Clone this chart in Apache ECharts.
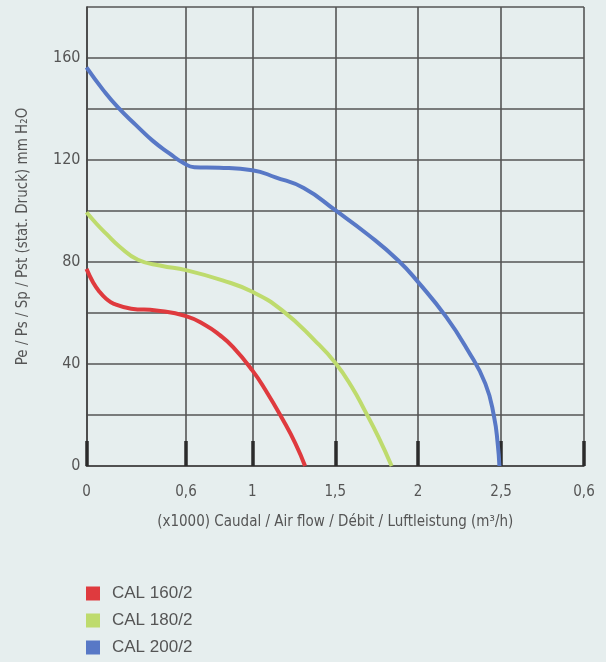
<!DOCTYPE html>
<html>
<head>
<meta charset="utf-8">
<script src="https://cdn.jsdelivr.net/npm/echarts@6/dist/echarts.min.js"></script>
<style>
html,body{margin:0;padding:0;background:#e6eeee;}
#chart{width:606px;height:662px;}
</style>
</head>
<body>
<div id="chart"></div>
<script>
const seriesNames = ['CAL 160/2', 'CAL 180/2', 'CAL 200/2'];
const seriesColors = ['#df3a3e', '#bedb6d', '#5878c6'];

// [airflow (x1000 m3/h), pressure mm H2O]
const cal160 = [[0,77.3],[0.04,72],[0.08,68.2],[0.12,65.5],[0.165,63.6],[0.27,61.7],[0.42,61],[0.6,58.8],[0.72,55.1],[0.8,51.5],[0.884,46.6],[1.0,37.5],[1.08,29.7],[1.18,18.6],[1.26,8.8],[1.318,0]];
const cal180 = [[0,99.5],[0.06,95],[0.12,91],[0.2,86],[0.31,80.9],[0.45,78.5],[0.6,76.8],[0.82,72.8],[1.0,68.3],[1.18,61],[1.38,49],[1.5,40.5],[1.6,31],[1.68,21.5],[1.76,11.4],[1.84,0]];
const cal200 = [[0,156.3],[0.1,147.5],[0.19,140.6],[0.3,133.6],[0.4,127.5],[0.5,122.6],[0.59,118.6],[0.65,117.2],[0.8,117],[1.0,116],[1.14,113.2],[1.31,109],[1.5,100.3],[1.7,90.6],[1.88,80.6],[2.0,72.1],[2.17,58.4],[2.3,45.3],[2.405,32.3],[2.458,19.2],[2.48,8.5],[2.49,0]];

const xTickValues = [0, 0.6, 1, 1.5, 2, 2.5, 3];
const xTickLabels = ['0', '0,6', '1', '1,5', '2', '2,5', '0,6'];
const yLabelValues = [0, 40, 80, 120, 160];

const textFont = "'Liberation Sans Narrow', 'DejaVu Sans Condensed', sans-serif";
const chart = echarts.init(document.getElementById('chart'), null, {renderer: 'canvas'});
const datasets = [cal160, cal180, cal200];

chart.setOption({
  backgroundColor: '#e6eeee',
  animation: false,
  grid: {left: 86.5, right: 22, top: 7, bottom: 196, containLabel: false},
  legend: {
    orient: 'vertical', left: 86, top: 585, height: 77, padding: 0,
    icon: 'rect', itemWidth: 14, itemHeight: 14, itemGap: 10,
    textStyle: {fontFamily: "'Liberation Sans', Arial, sans-serif", fontSize: 17, color: '#555', padding: [0,0,0,7]},
    data: seriesNames
  },
  xAxis: {
    type: 'value', min: 0, max: 3,
    name: '(x1000) Caudal / Air flow / Débit / Luftleistung (m³/h)',
    nameLocation: 'middle', nameGap: 49,
    nameTextStyle: {fontFamily: textFont, fontSize: 15, color: '#555'},
    axisLine: {show: true, lineStyle: {color: '#444', width: 1.6}},
    axisTick: {show: true, inside: true, length: 25, customValues: xTickValues, lineStyle: {color: '#2b2b2b', width: 3.5}},
    axisLabel: {customValues: xTickValues, margin: 19, fontFamily: textFont, fontSize: 15, color: '#555',
      formatter: function (v) { const i = xTickValues.indexOf(v); return i >= 0 ? xTickLabels[i] : ''; }},
    splitLine: {show: true, lineStyle: {color: '#555', width: 1.6}}
  },
  yAxis: {
    type: 'value', min: 0, max: 180, interval: 20,
    name: 'Pe / Ps / Sp / Pst (stat. Druck) mm H₂O',
    nameLocation: 'middle', nameGap: 56,
    nameTextStyle: {fontFamily: textFont, fontSize: 15, color: '#555'},
    axisLine: {show: true, lineStyle: {color: '#444', width: 1.6}},
    axisTick: {show: false},
    axisLabel: {margin: 6, fontFamily: textFont, fontSize: 16, color: '#555',
      formatter: function (v) { return yLabelValues.indexOf(v) >= 0 ? String(v) : ''; }},
    splitLine: {show: true, lineStyle: {color: '#555', width: 1.6}}
  },
  series: datasets.map(function (d, i) {
    return {
      name: seriesNames[i], type: 'line', data: d, smooth: 0.5,
      showSymbol: false, symbol: 'none',
      lineStyle: {color: seriesColors[i], width: 4},
      itemStyle: {color: seriesColors[i]},
      z: 3
    };
  })
});
</script>
</body>
</html>
